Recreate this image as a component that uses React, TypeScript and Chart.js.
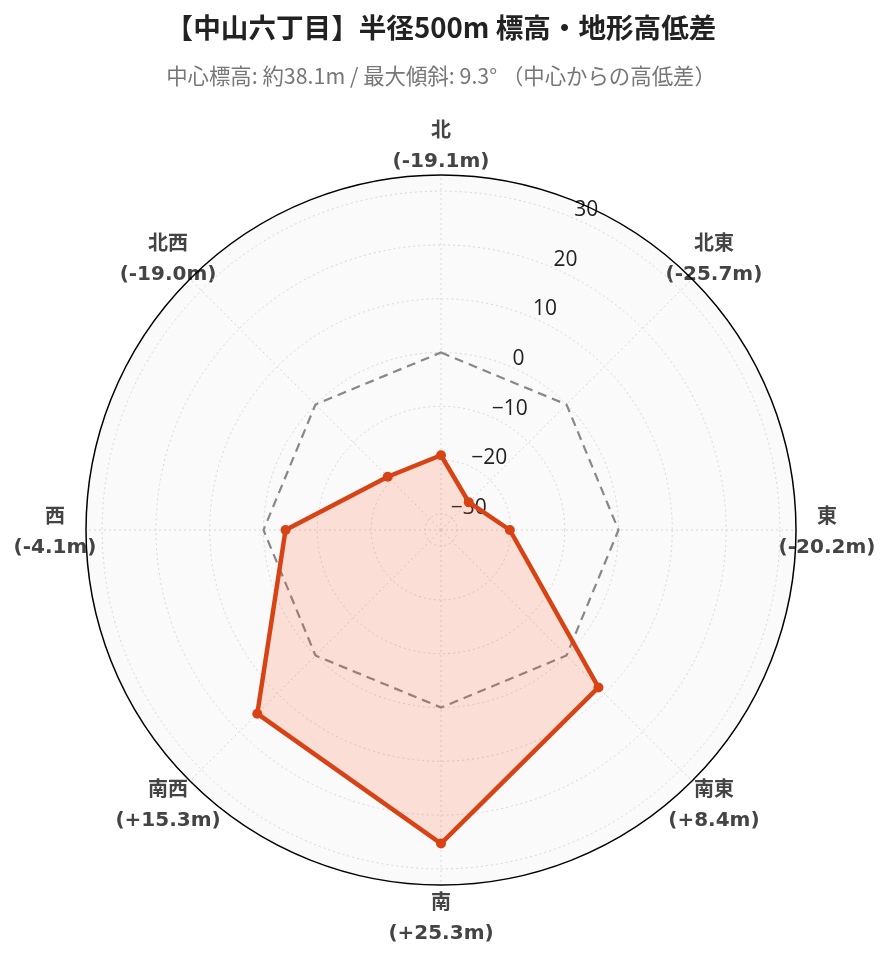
import React, { useEffect, useRef } from 'react';
import { Chart, registerables } from 'chart.js';

Chart.register(...registerables);

const directions = ['北', '北東', '東', '南東', '南', '南西', '西', '北西'];
const elevationDiffs = [-19.1, -25.7, -20.2, 8.4, 25.3, 15.3, -4.1, -19.0];
const referenceLine = [0, 0, 0, 0, 0, 0, 0, 0];
const radialTicks = [-30, -20, -10, 0, 10, 20, 30];
const radialMin = -33;
const radialMax = 33;
const titleText = '【中山六丁目】半径500m 標高・地形高低差';
const subtitleText = '中心標高: 約38.1m / 最大傾斜: 9.3° （中心からの高低差）';

const fmtDiff = (v: number) => `(${v > 0 ? '+' : ''}${v.toFixed(1)}m)`;
const fmtTick = (v: number) => (v < 0 ? '\u2212' + Math.abs(v) : String(v));

const polarDecor = {
  id: 'polarDecor',
  beforeDraw(chart: any) {
    const s = chart.scales.r;
    const ctx = chart.ctx;
    ctx.save();
    ctx.beginPath();
    ctx.arc(s.xCenter, s.yCenter, s.drawingArea, 0, Math.PI * 2);
    ctx.fillStyle = '#fafafa';
    ctx.fill();
    ctx.fillStyle = '#444';
    ctx.textAlign = 'center';
    ctx.textBaseline = 'middle';
    ctx.font = 'bold 20px "DejaVu Sans", "Noto Sans CJK JP", sans-serif';
    directions.forEach((d, i) => {
      const p = s.getPointPosition(i, s.drawingArea + 31);
      ctx.fillText(d, p.x, p.y - 12);
      ctx.fillText(fmtDiff(elevationDiffs[i]), p.x, p.y + 18);
    });
    ctx.restore();
  },
  beforeDatasetsDraw(chart: any) {
    const s = chart.scales.r;
    const ctx = chart.ctx;
    ctx.save();
    ctx.fillStyle = '#222';
    ctx.textAlign = 'left';
    ctx.textBaseline = 'middle';
    ctx.font = '21px "Open Sans", sans-serif';
    radialTicks.forEach((v) => {
      const p = s.getPointPosition(0, s.getDistanceFromCenterForValue(v), Math.PI / 8);
      ctx.fillText(fmtTick(v), p.x + 3.5, p.y - 7);
    });
    ctx.beginPath();
    ctx.arc(s.xCenter, s.yCenter, s.drawingArea, 0, Math.PI * 2);
    ctx.strokeStyle = '#000';
    ctx.lineWidth = 1.5;
    ctx.stroke();
    ctx.restore();
  },
};

export default function App() {
  const ref = useRef<HTMLCanvasElement | null>(null);
  useEffect(() => {
    if (!ref.current) return;
    const chart = new Chart(ref.current, {
      type: 'radar',
      data: {
        labels: directions,
        datasets: [
          {
            label: '高低差',
            data: elevationDiffs,
            borderColor: '#d84315',
            backgroundColor: 'rgba(255,87,34,0.17)',
            fill: 'start',
            borderWidth: 4.5,
            pointRadius: 5,
            pointBackgroundColor: '#d84315',
            pointBorderWidth: 0,
            tension: 0,
          },
          {
            label: '基準',
            data: referenceLine,
            borderColor: '#888',
            borderDash: [9, 6],
            borderWidth: 2.2,
            pointRadius: 0,
            fill: false,
            tension: 0,
          },
        ],
      },
      options: {
        responsive: false,
        animation: false,
        layout: { padding: { left: 78, right: 88, top: 0, bottom: 66 } },
        plugins: {
          legend: { display: false },
          tooltip: { enabled: false },
          title: {
            display: true,
            text: titleText,
            color: '#222',
            font: { size: 27.6, weight: 'bold', family: '"Noto Sans CJK JP", sans-serif' },
            padding: { top: 3, bottom: 9 },
          },
          subtitle: {
            display: true,
            text: subtitleText,
            color: '#777',
            font: { size: 21.4, family: '"Noto Sans CJK JP", sans-serif' },
            padding: { top: 10, bottom: 85 },
          },
        },
        scales: {
          r: {
            min: radialMin,
            max: radialMax,
            afterBuildTicks: (scale: any) => {
              scale.ticks = radialTicks.map((v) => ({ value: v }));
            },
            ticks: { display: false },
            pointLabels: { display: false },
            grid: { circular: true, color: '#d8d8d8', lineWidth: 1 },
            border: { dash: [2, 3] },
            angleLines: { color: '#d8d8d8', lineWidth: 1, borderDash: [2, 3] },
          },
        },
      },
      plugins: [polarDecor],
    } as any);
    return () => chart.destroy();
  }, []);
  return <canvas ref={ref} width={876} height={946} style={{ display: 'block' }} />;
}
